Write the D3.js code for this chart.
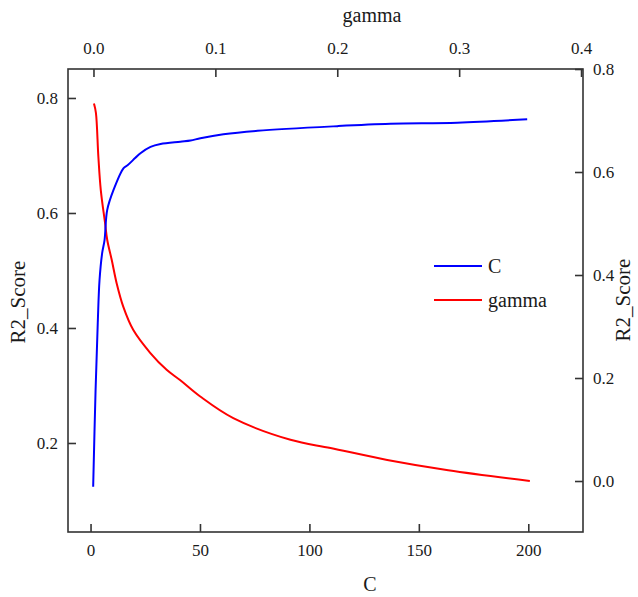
<!DOCTYPE html>
<html>
<head>
<meta charset="utf-8">
<script src="https://cdn.jsdelivr.net/npm/d3@7/dist/d3.min.js"></script>
<style>
  body { margin: 0; background: #fff; }
  svg { display: block; }
  text { font-family: "Liberation Serif", "Times New Roman", serif; fill: #1a1a1a; }
</style>
</head>
<body>
<svg id="chart" width="638" height="597"></svg>
<script>
// ---- data ----
const cValues = [1.2, 2.3, 3.3, 4.1, 5.3, 6.4, 7.6, 10.5, 15.1, 16.9, 20.5, 22.8, 27.4, 32, 41, 45.7, 50.2, 60.7, 76.3, 112.8, 137, 167.6, 199.5];
const cScores = [0.124, 0.292, 0.409, 0.483, 0.530, 0.553, 0.605, 0.640, 0.678, 0.683, 0.696, 0.704, 0.715, 0.720, 0.724, 0.726, 0.730, 0.737, 0.743, 0.751, 0.755, 0.757, 0.763];
const gammaValues = [0.0004, 0.002, 0.004, 0.006, 0.0095, 0.0113, 0.015, 0.019, 0.0245, 0.0327, 0.0465, 0.060, 0.071, 0.0876, 0.1147, 0.1616, 0.1945, 0.241, 0.291, 0.358];
const gammaScores = [0.733, 0.715, 0.630, 0.565, 0.501, 0.468, 0.429, 0.384, 0.338, 0.293, 0.249, 0.216, 0.196, 0.164, 0.122, 0.080, 0.064, 0.041, 0.021, 0.0];
const cTicks = [0, 50, 100, 150, 200];
const gammaTicks = [0.0, 0.1, 0.2, 0.3, 0.4];
const leftTicks = [0.2, 0.4, 0.6, 0.8];
const rightTicks = [0.0, 0.2, 0.4, 0.6, 0.8];
const seriesNames = ["C", "gamma"];
const seriesColors = ["#0000ff", "#ff0000"];

// ---- layout ----
const L = 68, T = 69, R = 583, B = 532;
const svg = d3.select("#chart");

const xC = d3.scaleLinear().domain([-10.3, 225]).range([L, R]);
const xG = d3.scaleLinear().domain([-0.0209, 0.4016]).range([L, R]);
const yL = d3.scaleLinear().domain([0.0452, 0.8504]).range([B, T]);
const yR = d3.scaleLinear().domain([-0.099, 0.8]).range([B, T]);

const tickLen = 8;
const fmt1 = d3.format(".1f");

function styleAxis(g) {
  g.select(".domain").remove();
  g.selectAll(".tick line").attr("stroke", "#333").attr("stroke-width", 1.6);
  g.selectAll(".tick text").style("font-family", '"Liberation Serif", serif').style("font-size", "17px").attr("fill", "#1a1a1a");
}

svg.append("g").attr("transform", `translate(0,${B})`)
  .call(d3.axisBottom(xC).tickValues(cTicks).tickSize(-tickLen).tickPadding(12).tickFormat(d3.format("d")))
  .call(styleAxis);
svg.append("g").attr("transform", `translate(0,${T})`)
  .call(d3.axisTop(xG).tickValues(gammaTicks).tickSize(-tickLen).tickPadding(15).tickFormat(fmt1))
  .call(styleAxis);
svg.append("g").attr("transform", `translate(${L},0)`)
  .call(d3.axisLeft(yL).tickValues(leftTicks).tickSize(-tickLen).tickPadding(10).tickFormat(fmt1))
  .call(styleAxis);
svg.append("g").attr("transform", `translate(${R},0)`)
  .call(d3.axisRight(yR).tickValues(rightTicks).tickSize(-tickLen).tickPadding(10).tickFormat(fmt1))
  .call(styleAxis);

// frame
svg.append("rect").attr("x", L).attr("y", T).attr("width", R - L).attr("height", B - T)
  .attr("fill", "none").attr("stroke", "#333").attr("stroke-width", 1.6);

// lines
const lineC = d3.line().x((d, i) => xC(cValues[i])).y(d => yL(d)).curve(d3.curveCatmullRom.alpha(0.5));
const lineG = d3.line().x((d, i) => xG(gammaValues[i])).y(d => yR(d)).curve(d3.curveCatmullRom.alpha(0.5));

svg.append("path").datum(gammaScores).attr("d", lineG)
  .attr("fill", "none").attr("stroke", seriesColors[1]).attr("stroke-width", 2);
svg.append("path").datum(cScores).attr("d", lineC)
  .attr("fill", "none").attr("stroke", seriesColors[0]).attr("stroke-width", 2);

// axis titles
svg.append("text").attr("x", 372).attr("y", 22).attr("text-anchor", "middle")
  .style("font-size", "20px").text("gamma");
svg.append("text").attr("x", 370).attr("y", 591).attr("text-anchor", "middle")
  .style("font-size", "20px").text("C");
svg.append("text").attr("transform", "translate(25,302) rotate(-90)").attr("text-anchor", "middle")
  .style("font-size", "21px").text("R2_Score");
svg.append("text").attr("transform", "translate(630,300) rotate(-90)").attr("text-anchor", "middle")
  .style("font-size", "21px").text("R2_Score");

// legend
const leg = svg.append("g");
seriesNames.forEach((name, i) => {
  const y = 266 + i * 34;
  leg.append("line").attr("x1", 434).attr("x2", 482).attr("y1", y).attr("y2", y)
    .attr("stroke", seriesColors[i]).attr("stroke-width", 2);
  leg.append("text").attr("x", 488).attr("y", y + 7).style("font-size", "20px").text(name);
});
</script>
</body>
</html>
